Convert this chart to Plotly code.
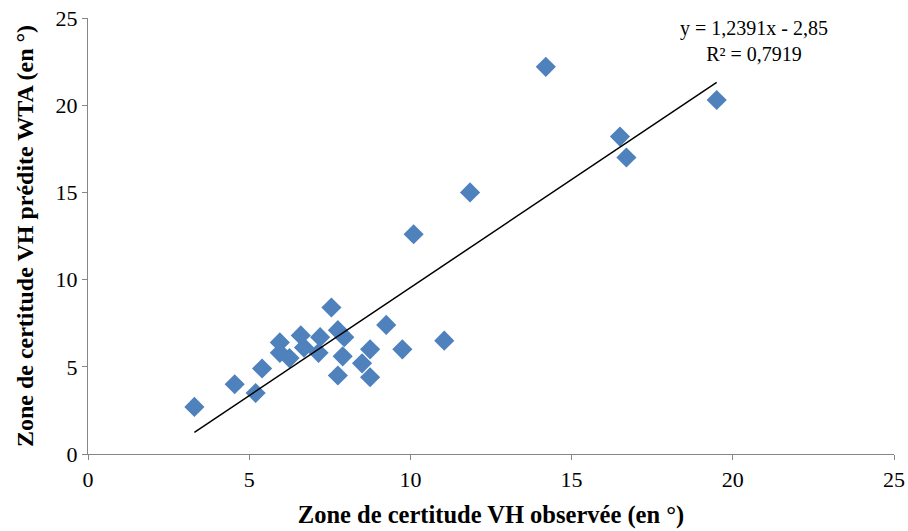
import plotly.graph_objects as go

# Observed vs predicted VH certitude zone (degrees)
observed = [3.3, 4.55, 5.2, 5.4, 5.95, 5.95, 6.25, 6.6, 6.7, 7.15, 7.2, 7.55, 7.75,
            7.75, 7.9, 7.95, 8.5, 8.75, 8.75, 9.25, 9.75, 10.1, 11.05, 11.85,
            14.2, 16.5, 16.7, 19.5]
predicted = [2.7, 4.0, 3.5, 4.9, 6.4, 5.8, 5.5, 6.8, 6.1, 5.8, 6.7, 8.4, 7.1,
             4.5, 5.6, 6.7, 5.2, 6.0, 4.4, 7.4, 6.0, 12.6, 6.5, 15.0,
             22.2, 18.2, 17.0, 20.3]

# Linear trend: y = 1.2391x - 2.85, R² = 0.7919
slope = 1.2391
intercept = -2.85
r2 = 0.7919

x_ticks = [0, 5, 10, 15, 20, 25]
y_ticks = [0, 5, 10, 15, 20, 25]

trend_x = [min(observed), max(observed)]
trend_y = [slope * v + intercept for v in trend_x]

font_family = "Liberation Serif, Times New Roman, serif"

W, H = 908, 531
L, R, T, B = 88, 14, 18, 77

fig = go.Figure()
fig.add_trace(go.Scatter(
    x=observed, y=predicted, mode="markers",
    marker=dict(symbol="diamond", size=15.5, color="#4F81BD",
                line=dict(width=0)),
    showlegend=False, hoverinfo="x+y"))
fig.add_trace(go.Scatter(
    x=trend_x, y=trend_y, mode="lines",
    line=dict(color="black", width=1.5),
    showlegend=False, hoverinfo="skip"))

def fr(v, d):
    return f"{v:.{d}f}".replace(".", ",")

# equation label, positioned in pixels relative to the plot area
px_x, px_y = 754, 41
fig.add_annotation(
    x=(px_x - L) / (W - L - R), y=((H - B) - px_y) / (H - B - T),
    xref="paper", yref="paper", xanchor="center", yanchor="middle",
    showarrow=False,
    text=f"y = {fr(slope, 4)}x - {fr(-intercept, 2)}<br>R² = {fr(r2, 4)}",
    font=dict(family=font_family, size=20, color="black"),
    align="center")

axis_common = dict(
    showgrid=False, zeroline=False, showline=True,
    linecolor="#868686", linewidth=1.3,
    ticks="outside", ticklen=5, tickcolor="#868686", tickwidth=1.3,
    tickfont=dict(family=font_family, size=22, color="black"),
    automargin=False,
)

fig.update_layout(
    width=W, height=H,
    margin=dict(l=L, r=R, t=T, b=B),
    paper_bgcolor="white", plot_bgcolor="white",
    xaxis=dict(range=[0, 25], tickvals=x_ticks, **axis_common,
               title=dict(text="<b>Zone de certitude VH observée (en °)</b>",
                          font=dict(family=font_family, size=24.5, color="black"))),
    yaxis=dict(range=[0, 25], tickvals=y_ticks, **axis_common,
               title=dict(text="<b>Zone de certitude VH prédite WTA (en °)</b>",
                          font=dict(family=font_family, size=24, color="black"))),
)

fig.write_html("out.html")
